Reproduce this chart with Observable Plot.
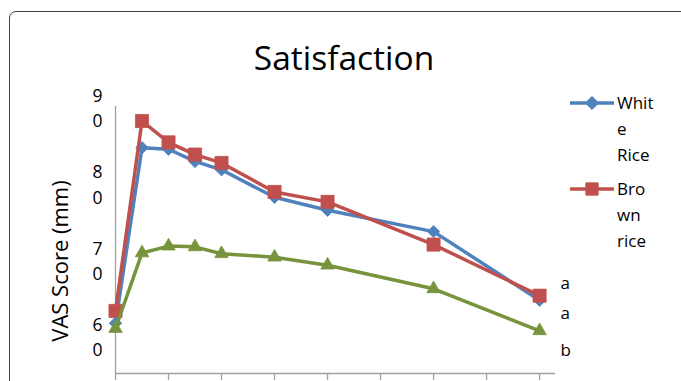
<!DOCTYPE html>
<html>
<head>
<meta charset="utf-8">
<script src="https://cdn.jsdelivr.net/npm/d3@7"></script>
<script src="https://cdn.jsdelivr.net/npm/@observablehq/plot@0.6"></script>
<style>
  body { margin: 0; background: #fff; font-family: "Open Sans", sans-serif; color: #000; }
  #wrap { position: relative; width: 681px; height: 381px; overflow: hidden; background: #fff; }
  #box { position: absolute; left: 9px; top: 11px; width: 720px; height: 420px;
         border: 1.3px solid #404040; border-radius: 7px; box-sizing: border-box; }
  #chart { position: absolute; left: 0; top: 0; }
  #title { position: absolute; left: 0; width: 688px; top: 41px; text-align: center;
           font-size: 33.5px; line-height: 1; }
  #ylabel { position: absolute; left: 59px; top: 261px; font-size: 22px; white-space: nowrap;
            transform: translate(-50%, -50%) rotate(-90deg); }
  .legend { position: absolute; left: 568px; font-size: 17px; line-height: 26px; }
  .legend svg { position: absolute; left: 0; top: 0; }
  .legend .lbl { position: absolute; left: 49px; top: -13px; white-space: nowrap; }
</style>
</head>
<body>
<div id="wrap">
  <div id="box"></div>
  <div id="chart"></div>
  <div id="title">Satisfaction</div>
  <div id="ylabel">VAS Score (mm)</div>
  <div id="legend"></div>
</div>
<script>
// Time after the meal (minutes) and mean VAS satisfaction scores
const minutes   = [0, 15, 30, 45, 60, 90, 120, 180, 240];
const whiteRice = [61.6, 84.6, 84.4, 82.8, 81.7, 78.1, 76.4, 73.6, 64.6];
const brownRice = [63.2, 88.1, 85.3, 83.7, 82.6, 78.8, 77.5, 71.9, 65.2];
const reference = [60.9, 70.8, 71.7, 71.6, 70.7, 70.25, 69.2, 66.1, 60.6];

// Axis ticks
const xTicks = [0, 30, 60, 90, 120, 150, 180, 210, 240];
const yTicks = [60, 70, 80, 90];

// Significance letters shown beside the final time point (score units)
const letters  = ["a", "a", "b"];
const letterAt = [66.8, 62.9, 58.0];

const series = [
  {name: "White Rice", lines: ["Whit", "e", "Rice"], values: whiteRice, color: "#4F81BD", symbol: "diamond2", r: 5.6},
  {name: "Brown rice", lines: ["Bro", "wn", "rice"], values: brownRice, color: "#C0504D", symbol: "square", r: 7.4},
  {name: "Reference", lines: null, values: reference, color: "#77933C", symbol: "triangle", r: 5}
];

const rows = series.map(s => minutes.map((t, i) => ({series: s.name, t, v: s.values[i]})));
const letterRows = letters.map((l, i) => ({l, v: letterAt[i]}));

const marks = [
  Plot.ruleY([55], {stroke: "#a0a0a0", strokeWidth: 1.3}),
  Plot.ruleX([0], {stroke: "#a0a0a0", strokeWidth: 1.3}),
  Plot.axisX({ticks: xTicks, tickSize: 7, tickFormat: () => "", stroke: "#a0a0a0", strokeWidth: 1.3, label: null}),
  Plot.axisY({ticks: yTicks, tickSize: 0, tickPadding: 13, fontSize: 17.5, lineHeight: 1.45,
              tickFormat: d => String(d).split("").join("\n"), label: null, fill: "#000"})
];
series.forEach((s, k) => {
  marks.push(Plot.line(rows[k], {x: "t", y: "v", stroke: s.color, strokeWidth: 3.5}));
  marks.push(Plot.dot(rows[k], {x: "t", y: "v", symbol: () => s.symbol, r: s.r, fill: s.color, stroke: s.color, strokeWidth: 0.8}));
});
marks.push(Plot.text(letterRows, {x: () => 240, y: "v", text: "l", dx: 21, textAnchor: "start", fontSize: 17, fill: "#000"}));

const chart = Plot.plot({
  width: 681,
  height: 381,
  marginLeft: 115,
  marginRight: 126,
  marginTop: 106,
  marginBottom: 8,
  style: {fontFamily: "Open Sans", background: "transparent", overflow: "visible"},
  x: {domain: [0, 249]},
  y: {domain: [55, 90]},
  symbol: {type: "identity"},
  marks
});
document.getElementById("chart").append(chart);

// Legend for the two rice series
const legend = document.getElementById("legend");
const legendTop = [103, 189];
series.filter(s => s.lines).forEach((s, i) => {
  const item = document.createElement("div");
  item.className = "legend";
  item.style.top = legendTop[i] + "px";
  const symbolPath = s.symbol === "square" ? d3.symbol(d3.symbolSquare, 150)() : d3.symbol(d3.symbolDiamond2, 110)();
  item.innerHTML =
    `<svg width="48" height="30" style="top:-15px;overflow:visible">` +
    `<line x1="2" x2="46" y1="15" y2="15" stroke="${s.color}" stroke-width="3.5"/>` +
    `<path d="${symbolPath}" transform="translate(24,15)" fill="${s.color}" stroke="${s.color}"/></svg>` +
    `<div class="lbl">${s.lines.join("<br>")}</div>`;
  legend.append(item);
});
</script>
</body>
</html>
